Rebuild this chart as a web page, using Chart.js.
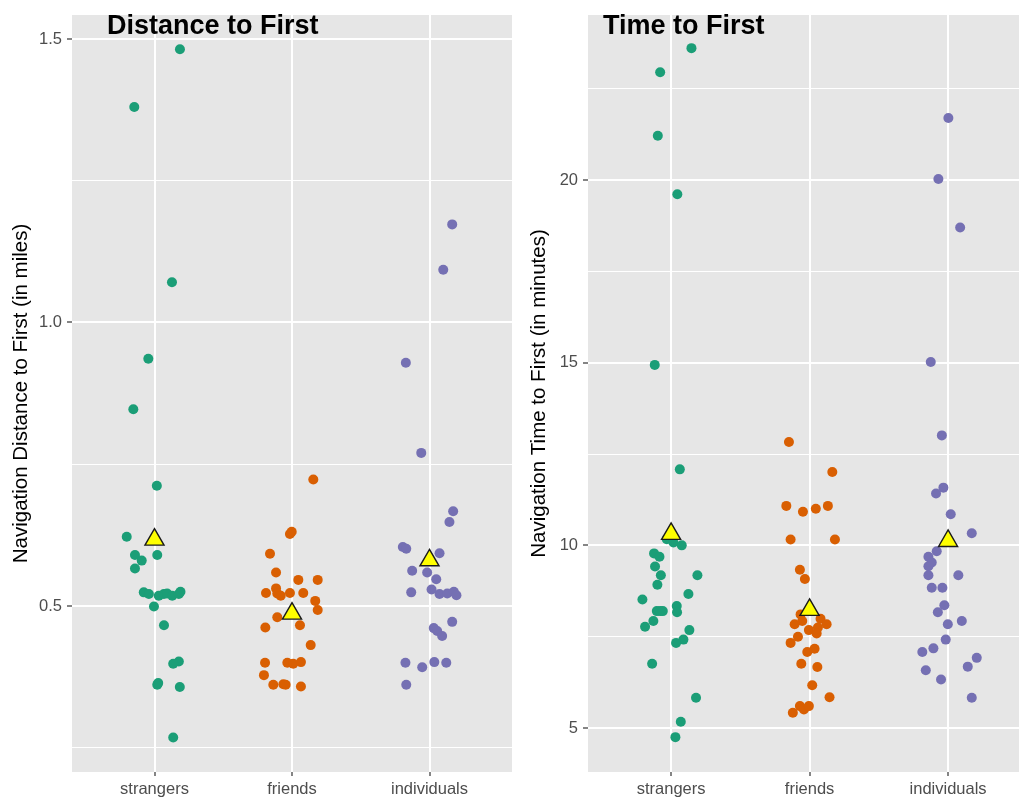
<!DOCTYPE html>
<html>
<head>
<meta charset="utf-8">
<script src="https://cdn.jsdelivr.net/npm/chart.js@4.4.1/dist/chart.umd.min.js"></script>
<style>
  html, body { margin: 0; padding: 0; background: #fff; overflow: hidden; }
  canvas { position: absolute; top: 0; }
  #distChart { left: 0; }
  #timeChart { left: 516px; }
</style>
</head>
<body>
<canvas id="distChart" width="515" height="797"></canvas>
<canvas id="timeChart" width="503" height="797"></canvas>
<script>
const categories = ['strangers', 'friends', 'individuals'];

// left panel: navigation distance to first (miles)
const distStrangers = [1.482, 1.380, 1.071, 0.936, 0.847, 0.712, 0.622, 0.590, 0.580, 0.590, 0.566,
  0.524, 0.521, 0.518, 0.521, 0.522, 0.518, 0.521, 0.525, 0.499, 0.466, 0.402, 0.398, 0.361, 0.364, 0.357, 0.268];
const distStrangersJitter = [0.185, -0.147, 0.127, -0.045, -0.154, 0.017, -0.202, -0.142, -0.093, 0.020, -0.142,
  -0.078, -0.041, 0.031, 0.068, 0.092, 0.129, 0.177, 0.189, -0.004, 0.069, 0.177, 0.136, 0.020, 0.027, 0.184, 0.136];

const distFriends = [0.723, 0.627, 0.631, 0.592, 0.559, 0.546, 0.546, 0.523, 0.531, 0.522, 0.518, 0.523, 0.523,
  0.509, 0.493, 0.480, 0.466, 0.462, 0.431, 0.400, 0.400, 0.398, 0.401, 0.378, 0.361, 0.362, 0.361, 0.358];
const distFriendsJitter = [0.155, -0.015, -0.002, -0.160, -0.116, 0.046, 0.187, -0.189, -0.116, -0.107, -0.082, -0.015, 0.082,
  0.169, 0.187, -0.107, 0.058, -0.194, 0.136, -0.196, -0.034, 0.009, 0.065, -0.204, -0.136, -0.063, -0.046, 0.065];

const distIndividuals = [1.173, 1.093, 0.929, 0.770, 0.667, 0.648, 0.604, 0.601, 0.593, 0.562, 0.559, 0.547, 0.524,
  0.529, 0.521, 0.522, 0.525, 0.519, 0.472, 0.461, 0.456, 0.447, 0.400, 0.392, 0.401, 0.400, 0.361];
const distIndividualsJitter = [0.165, 0.100, -0.172, -0.060, 0.172, 0.145, -0.194, -0.169, 0.073, -0.126, -0.017, 0.049, -0.133,
  0.015, 0.073, 0.129, 0.177, 0.196, 0.165, 0.031, 0.056, 0.092, -0.175, -0.053, 0.035, 0.122, -0.169];

// right panel: navigation time to first (minutes)
const timeStrangers = [23.61, 22.95, 21.21, 19.61, 14.94, 12.08, 10.17, 10.08, 10.00, 9.78, 9.69, 9.42, 9.18, 9.18,
  8.92, 8.67, 8.52, 8.20, 8.20, 8.20, 8.34, 8.17, 7.93, 7.77, 7.68, 7.42, 7.33, 6.76, 5.83, 5.17, 4.75];
const timeStrangersJitter = [0.147, -0.079, -0.096, 0.045, -0.118, 0.063, -0.031, 0.017, 0.077, -0.123, -0.084, -0.116, -0.074, 0.190,
  -0.099, 0.125, -0.207, -0.103, -0.079, -0.060, 0.041, 0.043, -0.128, -0.188, 0.132, 0.089, 0.036, -0.137, 0.180, 0.070, 0.031];

const timeFriends = [12.83, 12.01, 11.08, 10.92, 11.00, 11.08, 10.16, 10.16, 9.33, 9.08, 8.11, 7.93, 7.84, 7.99, 7.75,
  7.84, 7.68, 7.59, 7.50, 7.33, 7.17, 7.08, 6.76, 6.67, 6.17, 5.84, 5.60, 5.51, 5.60, 5.42];
const timeFriendsJitter = [-0.149, 0.164, -0.168, -0.048, 0.045, 0.132, -0.137, 0.183, -0.070, -0.034, -0.065, -0.053, -0.108, 0.079, 0.060,
  0.123, -0.005, 0.051, -0.084, -0.137, 0.036, -0.017, -0.060, 0.056, 0.019, 0.144, -0.070, -0.041, -0.005, -0.121];

const timeIndividuals = [21.70, 20.03, 18.70, 15.02, 13.01, 11.58, 11.42, 10.85, 10.33, 9.84, 9.69, 9.53, 9.43, 9.18, 9.18,
  8.84, 8.84, 8.36, 8.17, 7.93, 7.84, 7.42, 7.18, 7.08, 6.92, 6.68, 6.58, 6.33, 5.83];
const timeIndividualsJitter = [0.002, -0.070, 0.087, -0.125, -0.045, -0.034, -0.087, 0.019, 0.171, -0.082, -0.142, -0.118, -0.142, -0.142, 0.074,
  -0.118, -0.041, -0.027, -0.074, 0.099, -0.002, -0.017, -0.106, -0.186, 0.207, 0.142, -0.161, -0.051, 0.171];

// axis ticks
const distTicks = [0.5, 1.0, 1.5];
const distTickLabels = ['0.5', '1.0', '1.5'];
const distMinor = [0.25, 0.75, 1.25];
const timeTicks = [5, 10, 15, 20];
const timeTickLabels = ['5', '10', '15', '20'];
const timeMinor = [7.5, 12.5, 17.5, 22.5];

const groupColors = ['#1b9e77', '#d95f02', '#7570b3'];

Chart.defaults.font.family = '"Liberation Sans", Arial, sans-serif';

const mean = (arr) => arr.reduce((s, v) => s + v, 0) / arr.length;

const panelPlugin = {
  id: 'panel',
  beforeDraw(chart, args, opts) {
    const { ctx, chartArea: a } = chart;
    ctx.save();
    ctx.fillStyle = '#e6e6e6';
    ctx.fillRect(a.left, a.top, a.right - a.left, a.bottom - a.top);
    ctx.restore();
  },
  afterDraw(chart, args, opts) {
    const ctx = chart.ctx;
    ctx.save();
    ctx.font = 'bold 27px "Liberation Sans", Arial, sans-serif';
    ctx.fillStyle = '#000';
    ctx.textBaseline = 'alphabetic';
    ctx.fillText(opts.title, opts.x, opts.y);
    ctx.restore();
  },
};

function getDatasets(groups, jitters) {
  const sets = groups.map((vals, i) => ({
    data: vals.map((v, j) => ({ x: i + 1 + jitters[i][j], y: v })),
    backgroundColor: groupColors[i],
    borderWidth: 0,
    pointRadius: 5,
    pointHoverRadius: 5,
    order: 1,
  }));
  // group means drawn as yellow triangles
  sets.push({
    data: groups.map((vals, i) => ({ x: i + 1, y: mean(vals) })),
    pointStyle: 'triangle',
    pointRadius: 11,
    pointHoverRadius: 11,
    backgroundColor: '#ffff00',
    borderColor: '#1a1a1a',
    borderWidth: 1.4,
    order: 0,
  });
  return sets;
}

function getConfig(p) {
  const isMajor = (v) => p.ticks.some((t) => Math.abs(t - v) < 1e-9);
  return {
    type: 'scatter',
    data: { datasets: getDatasets(p.groups, p.jitters) },
    plugins: [panelPlugin],
    options: {
      responsive: false,
      animation: false,
      devicePixelRatio: 1,
      layout: { autoPadding: false, padding: { left: 0, right: p.padRight, top: 15, bottom: 0 } },
      plugins: {
        legend: { display: false },
        tooltip: { enabled: false },
        panel: { title: p.title, x: p.titleX, y: 34 },
      },
      scales: {
        x: {
          type: 'linear',
          position: 'bottom',
          min: 0.4,
          max: p.xMax,
          afterBuildTicks: (scale) => {
            scale.ticks = categories.map((c, i) => ({ value: i + 1 }));
          },
          afterFit: (scale) => { scale.height = 25; },
          ticks: {
            autoSkip: false,
            maxRotation: 0,
            padding: 4,
            color: '#4d4d4d',
            font: { size: 16.5 },
            callback: (v, i) => categories[i],
          },
          grid: { color: '#ffffff', lineWidth: 2, tickColor: '#333333', tickLength: 4, tickWidth: 1.2 },
          border: { display: false },
        },
        y: {
          type: 'linear',
          position: 'left',
          min: p.yMin,
          max: p.yMax,
          afterBuildTicks: (scale) => {
            scale.ticks = p.ticks.concat(p.minor).sort((a, b) => a - b).map((v) => ({ value: v }));
          },
          afterFit: (scale) => { scale.width = 72; },
          ticks: {
            autoSkip: false,
            padding: 5,
            color: '#4d4d4d',
            font: { size: 16.5 },
            callback: (v) => {
              const k = p.ticks.findIndex((t) => Math.abs(t - v) < 1e-9);
              return k >= 0 ? p.tickLabels[k] : '';
            },
          },
          grid: {
            color: '#ffffff',
            lineWidth: (ctx) => (ctx.tick && isMajor(ctx.tick.value) ? 2 : 1),
            tickColor: (ctx) => (ctx.tick && isMajor(ctx.tick.value) ? '#333333' : 'rgba(0,0,0,0)'),
            tickLength: 5,
            tickWidth: 1.2,
          },
          border: { display: false },
          title: {
            display: true,
            text: p.yTitle,
            color: '#000',
            font: { size: 20.5 },
            padding: { top: p.yTitlePad, bottom: 0 },
          },
        },
      },
    },
  };
}

new Chart(document.getElementById('distChart'), getConfig({
  groups: [distStrangers, distFriends, distIndividuals],
  jitters: [distStrangersJitter, distFriendsJitter, distIndividualsJitter],
  ticks: distTicks,
  tickLabels: distTickLabels,
  minor: distMinor,
  yMin: 0.2072,
  yMax: 1.5423,
  xMax: 3.6,
  padRight: 3,
  title: 'Distance to First',
  titleX: 107,
  yTitle: 'Navigation Distance to First (in miles)',
  yTitlePad: 9,
}));

new Chart(document.getElementById('timeChart'), getConfig({
  groups: [timeStrangers, timeFriends, timeIndividuals],
  jitters: [timeStrangersJitter, timeFriendsJitter, timeIndividualsJitter],
  ticks: timeTicks,
  tickLabels: timeTickLabels,
  minor: timeMinor,
  yMin: 3.796,
  yMax: 24.517,
  xMax: 3.512,
  padRight: 0,
  title: 'Time to First',
  titleX: 87,
  yTitle: 'Navigation Time to First (in minutes)',
  yTitlePad: 11,
}));
</script>
</body>
</html>
